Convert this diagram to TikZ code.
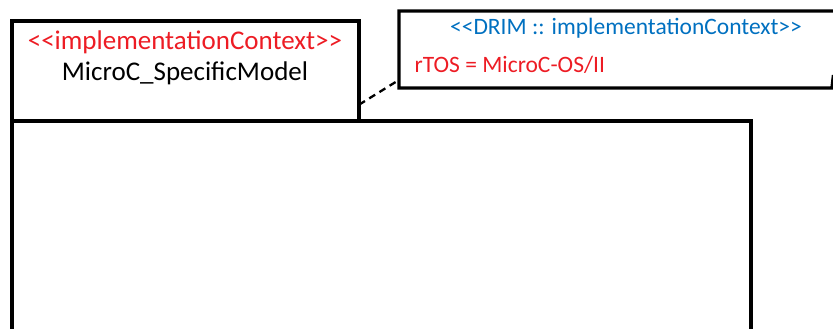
\documentclass[tikz,border=0pt]{standalone}
\usepackage{fontspec}
\setmainfont{Carlito}
\usetikzlibrary{positioning}

\definecolor{ctxred}{RGB}{237,28,36}
\definecolor{drimblue}{RGB}{0,112,192}

\begin{document}
\begin{tikzpicture}[x=1pt, y=-1pt, line width=3.4pt,
    pkgbox/.style={draw, inner sep=0pt, outer sep=0pt, anchor=north west},
    pkgtext/.style={font=\fontsize{27}{32}\selectfont, inner sep=0pt, anchor=base},
    notetext/.style={font=\fontsize{23.5}{28}\selectfont, inner sep=0pt, anchor=base}]
    \useasboundingbox (0,0) rectangle (833,329);
    \clip (0,0) rectangle (833,329);

    % package: tab and body
    \node[pkgbox, minimum width=347pt, minimum height=100pt] (tab) at (12,21) {};
    \node[pkgbox, minimum width=739pt, minimum height=260pt] (body) at (12,121) {};
    \node[pkgtext, text=ctxred] (stereo) at (185,50) {<\kern0pt<implementationContext>\kern0pt>};
    \node[pkgtext] (pkgname) at (185,81) {MicroC\_SpecificModel};

    % note with the tagged value
    \node[inner sep=0pt, outer sep=0pt, anchor=north west,
          minimum width=433pt, minimum height=77pt] (note) at (399,11) {};
    \draw ([xshift=6pt]note.north east) -- (note.north west) -- (note.south west)
          -- (note.south east) -- ++(1.5,-13);
    \node[notetext, text=drimblue] (drim) at (626,35) {<\kern0pt<DRIM :: implementationContext>\kern0pt>};
    \node[notetext, text=ctxred, anchor=base west] (rtos) at (413,73) {rTOS = MicroC-OS/II};

    \draw[dashed, line width=2.3pt, dash pattern=on 7pt off 5pt] (tab.-11) -- (note.188);
\end{tikzpicture}
\end{document}
